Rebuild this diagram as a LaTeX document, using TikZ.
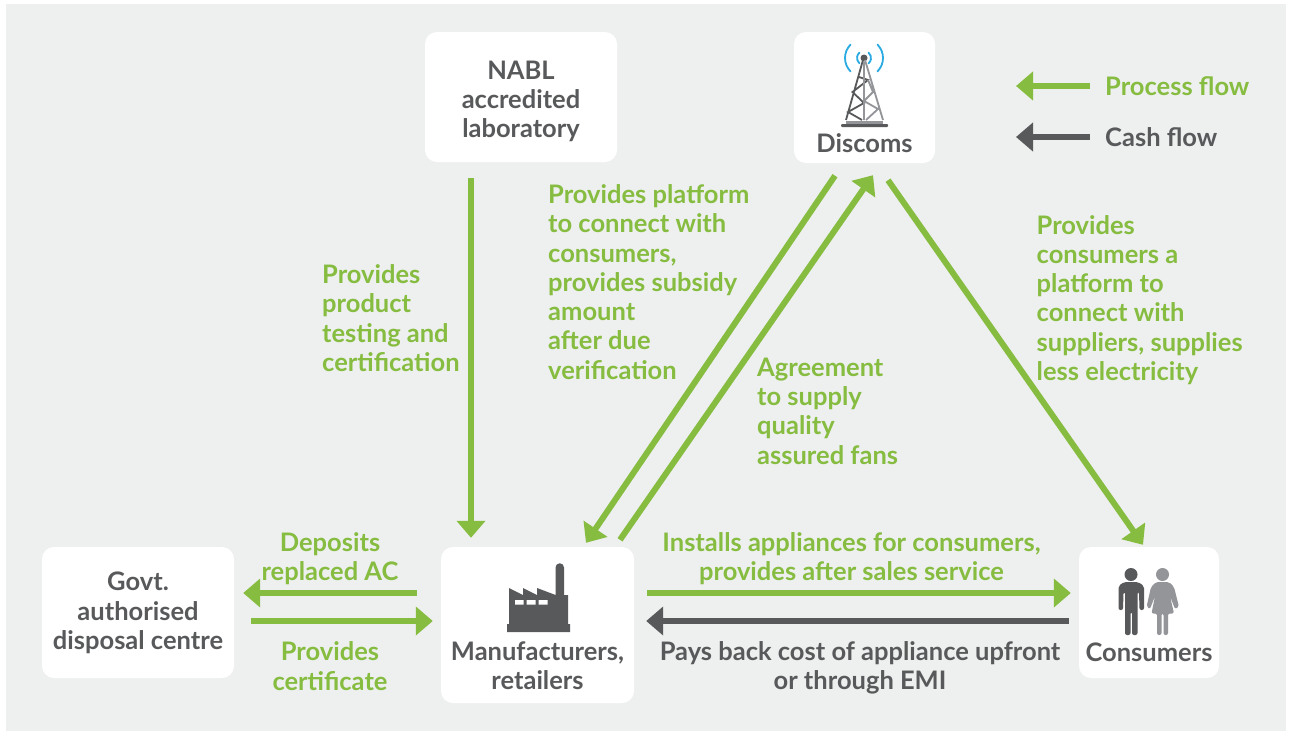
\documentclass[tikz,border=0pt]{standalone}
\usepackage{fontspec}
\setmainfont{Lato}
\usetikzlibrary{arrows.meta, positioning}
\definecolor{flowgreen}{HTML}{86BC40}
\definecolor{cashgrey}{HTML}{58595B}
\definecolor{lightgrey}{HTML}{939598}
\definecolor{panelgrey}{HTML}{EEF0EF}
\definecolor{signalblue}{HTML}{29ABE2}
\tikzset{
	box/.style={fill=white, rounded corners=12pt, inner sep=0pt},
	txt/.style={inner sep=0pt, font=\fontsize{25.5}{29.3}\selectfont\bfseries, text=cashgrey},
	gtxt/.style={txt, text=flowgreen},
	process/.style={draw=flowgreen, line width=6pt, -{Triangle[length=17pt, width=28pt]}},
	cash/.style={process, draw=cashgrey}
}
\begin{document}
\begin{tikzpicture}[x=1pt, y=-1pt]
		\useasboundingbox (0, 0) rectangle (1290, 731);
		\fill[panelgrey] (6, 4) rectangle (1286, 731);

		\draw (521, 97) node[box, minimum width=192pt, minimum height=130pt] (nabl) {}
		(864.5, 97.5) node[box, minimum width=141pt, minimum height=131pt] (discoms) {}
		(537.5, 625) node[box, minimum width=193pt, minimum height=156pt] (manu) {}
		(1149, 612.5) node[box, minimum width=140pt, minimum height=131pt] (cons) {}
		(138, 612.5) node[box, minimum width=192pt, minimum height=131pt] (govt) {};

		\node[txt, align=center] (nabltxt) at (521, 101.5) {NABL\\accredited\\laboratory};
		\node[txt, align=center] (govttxt) at (138, 613) {Govt.\\authorised\\disposal centre};
		\node[txt] (discomstxt) at (864.5, 143) {Discoms};
		\node[txt, align=center] (manutxt) at (537.5, 665.5) {Manufacturers,\\retailers};
		\node[txt] (constxt) at (1149, 652) {Consumers};

		\node[gtxt, align=left, anchor=west] (testing) at (322, 318) {Provides\\product\\testing and\\certification};
		\node[gtxt, align=left, anchor=west] (platform) at (548, 282) {Provides platform\\to connect with\\consumers,\\provides subsidy\\amount\\after due\\verification};
		\node[gtxt, align=left, anchor=west] (agreement) at (757, 411) {Agreement\\to supply\\quality\\assured fans};
		\node[gtxt, align=left, anchor=west] (suppliers) at (1036.5, 300) {Provides\\consumers a\\platform to\\connect with\\suppliers, supplies\\less electricity};
		\node[gtxt, align=center] (deposits) at (330, 558.5) {Deposits\\replaced AC};
		\node[gtxt, align=center] (certificate) at (330, 666) {Provides\\certificate};
		\node[gtxt, align=center] (installs) at (851.5, 558.5) {Installs appliances for consumers,\\provides after sales service};
		\node[txt, align=center] (pays) at (860, 667.5) {Pays back cost of appliance upfront\\or through EMI};
		\node[gtxt, anchor=west] (processkey) at (1105, 86) {Process flow};
		\node[txt, anchor=west] (cashkey) at (1105, 137) {Cash flow};

		\coordinate (processtip) at (1016, 86);
		\coordinate (cashtip) at (1016, 137);

		\draw[process] ([shift={(-50, 16)}]nabl.south) -- ([shift={(-66.5, -9)}]manu.north);
		\draw[process] ([shift={(-29.5, 12.5)}]discoms.south) -- ([shift={(48.5, -4)}]manu.north);
		\draw[process] ([shift={(82.5, -7)}]manu.north) -- ([shift={(8.5, 12)}]discoms.south);
		\draw[process] ([shift={(23.5, 17)}]discoms.south) -- ([shift={(-6, -2)}]cons.north);
		\draw[process] ([shift={(-24, -32)}]manu.west) -- ([shift={(9, -19.5)}]govt.east);
		\draw[process] ([shift={(17, 8.5)}]govt.east) -- ([shift={(-8, -4)}]manu.west);
		\draw[process] ([shift={(13, -32)}]manu.east) -- ([shift={(-8, -19.5)}]cons.west);
		\draw[cash] ([shift={(-10, 8.5)}]cons.west) -- ([shift={(12, -4)}]manu.east);
		\draw[process] ([xshift=-15pt]processkey.west) -- (processtip);
		\draw[cash] ([xshift=-15pt]cashkey.west) -- (cashtip);

		% tower
		\draw[signalblue, line width=1.8pt, line cap=round]
		(864, 58) ++(130:7) arc (130:230:7) (864, 58) ++(-50:7) arc (-50:50:7)
		(864, 58) ++(135:19) arc (135:225:19) (864, 58) ++(-45:19) arc (-45:45:19);
		\fill[cashgrey] (864, 58) circle (3.5pt);
		\draw[cashgrey, line width=1.8pt] (863, 60) -- (846, 120)
		(859, 77) -- (868, 80) -- (852.5, 92) -- (864, 103) -- (848, 112) -- (862, 120);
		\draw[lightgrey, line width=1.8pt] (865, 60) -- (883, 120) (864, 62) -- (864, 120)
		(868, 80) -- (873, 92) -- (864, 101) -- (878, 109) -- (866, 120);
		\fill[lightgrey] (846, 121) rectangle (883, 124);
		\fill[cashgrey, rounded corners=1pt] (841, 124) rectangle (888, 127);

		% factory
		\fill[cashgrey] (507, 624) -- (509, 624) -- (509, 588) -- (523, 595)
		-- (523, 588) -- (537, 595) -- (537, 588) -- (555.5, 595) -- (555.5, 567.5) arc (180:360:4.25)
		-- (564, 595) -- (568, 595) -- (568, 624) -- (570, 624) -- (570, 632) -- (507, 632) -- cycle;
		\fill[white] (515, 600) rectangle (523.5, 604.5) (526.5, 600) rectangle (535.5, 604.5)
		(538.5, 600) rectangle (547.5, 604.5);

		% man
		\fill[cashgrey] (1131, 574.5) circle (6.5pt);
		\fill[cashgrey, rounded corners=2pt] (1124, 582) -- (1138, 582) -- (1144, 586) -- (1144, 610)
		-- (1139.5, 610) -- (1139, 592) -- (1137.5, 592) -- (1137.5, 635) -- (1132, 635) -- (1132, 612) -- (1130.5, 612)
		-- (1130.5, 635) -- (1125, 635) -- (1125, 592) -- (1123.5, 592) -- (1123, 610) -- (1118.5, 610) -- (1118.5, 586) -- cycle;

		% woman
		\fill[lightgrey] (1162.5, 574.5) circle (6.5pt);
		\fill[lightgrey, rounded corners=2pt] (1156, 582) -- (1169, 582) -- (1174, 587) -- (1179, 607) -- (1175, 609)
		-- (1170, 596) -- (1174, 613.5) -- (1168, 613.5) -- (1168, 635) -- (1163.5, 635) -- (1163.5, 613.5) -- (1161.5, 613.5)
		-- (1161.5, 635) -- (1157, 635) -- (1157, 613.5) -- (1151.5, 613.5) -- (1155, 596) -- (1150, 609) -- (1146.5, 607)
		-- (1151, 587) -- cycle;
	\end{tikzpicture}
\end{document}
